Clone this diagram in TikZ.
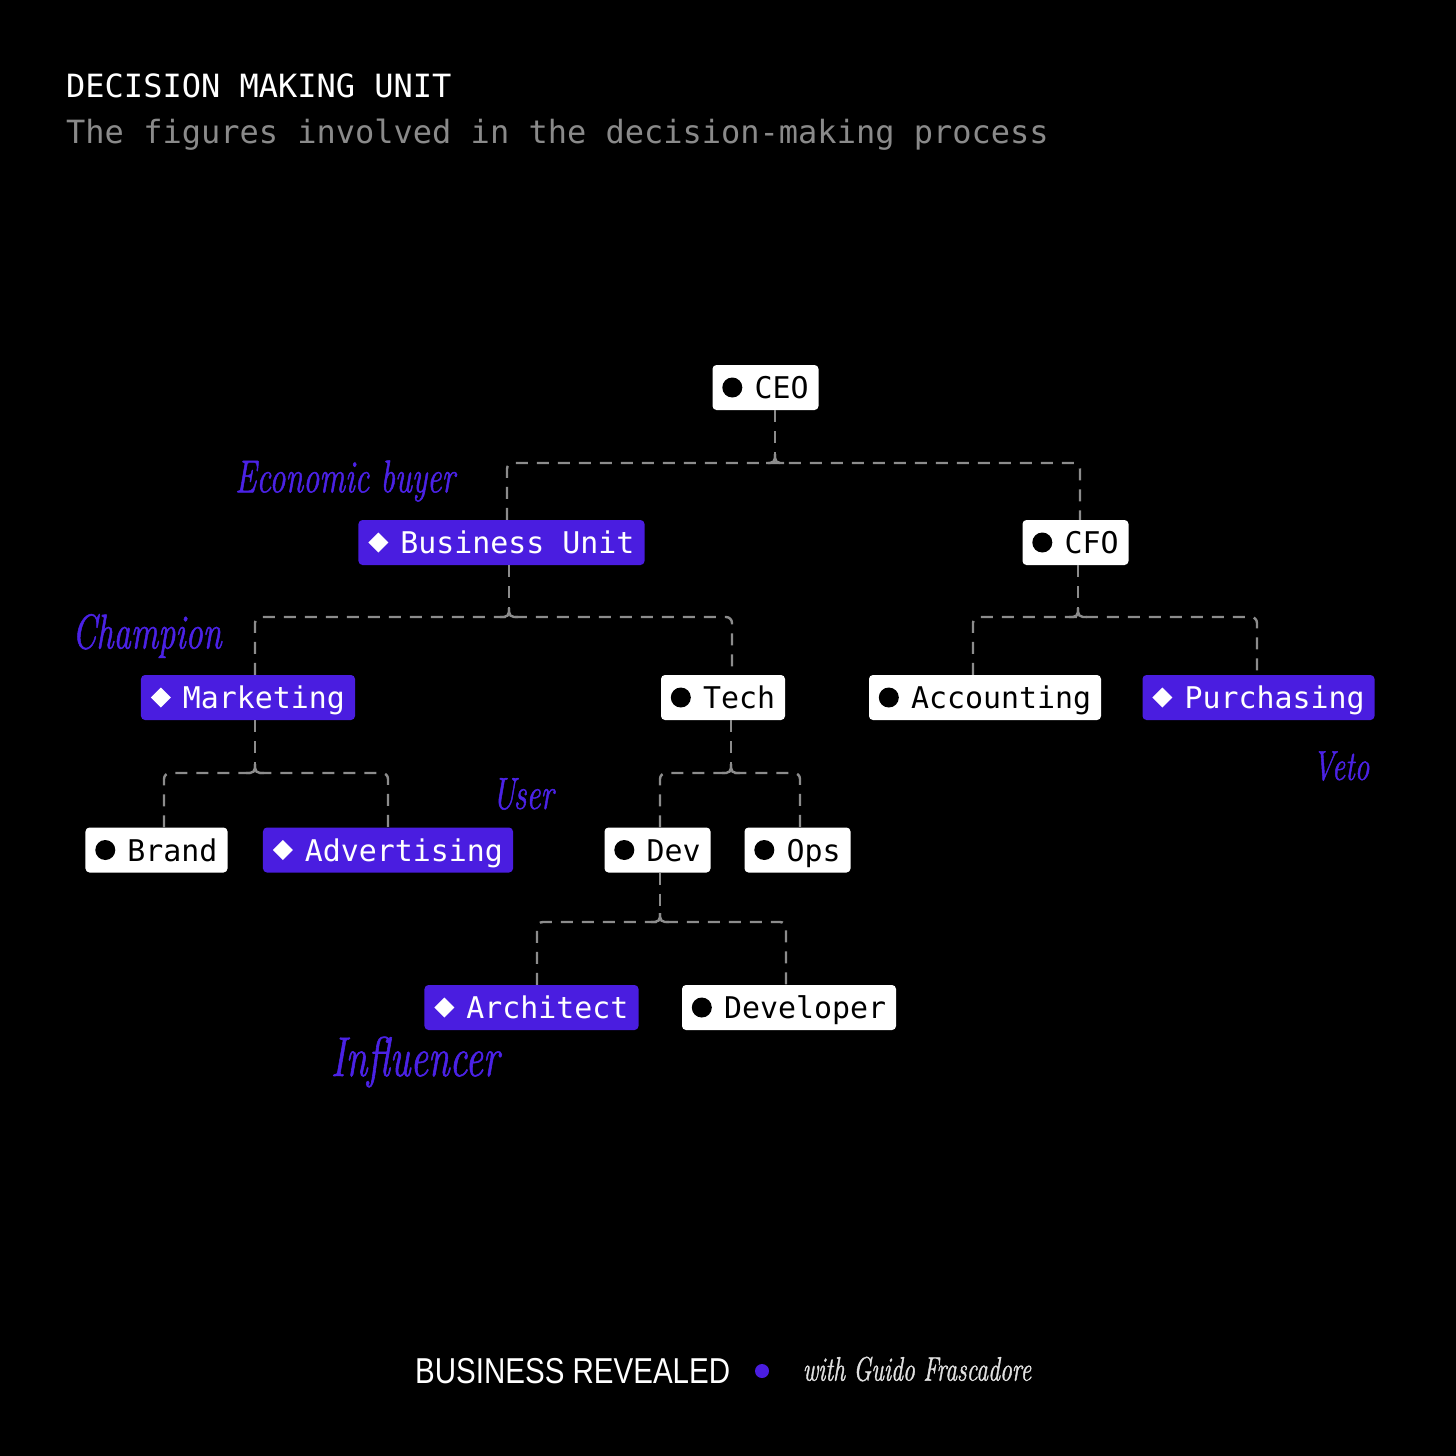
\documentclass[tikz,border=0pt]{standalone}
\usepackage{fontspec}
\newfontfamily\monofont{DejaVu Sans Mono}
\newfontfamily\footfont[FakeStretch=0.82]{Liberation Sans}
\newfontfamily\handfont[FakeStretch=0.7, FakeBold=1]{Latin Modern Roman}
\definecolor{dmupurple}{HTML}{4A1DE0}
\definecolor{handpurple}{HTML}{4B22E6}
\definecolor{linegray}{HTML}{8C8C8C}
\definecolor{subgray}{HTML}{8A8A8A}
\tikzset{
  box/.style={rectangle, rounded corners=4pt, minimum height=45pt, inner xsep=10pt, inner ysep=0pt,
    text height=22pt, text depth=0pt, font=\monofont\fontsize{29.9pt}{34pt}\selectfont},
  whitebox/.style={box, fill=white, text=black},
  purplebox/.style={box, fill=dmupurple, text=white},
  conn/.style={draw=linegray, line width=2.4pt, dash pattern=on 12pt off 9pt, rounded corners=6pt},
  junc/.style={draw=linegray, line width=2.4pt, rounded corners=5pt},
  hand/.style={text=handpurple, inner sep=0pt},
}
\newcommand\lbl[1]{\hspace*{32pt}#1}
\begin{document}
\begin{tikzpicture}[x=1pt,y=-1pt]
\fill[black] (0,0) rectangle (1456,1456);
\useasboundingbox (0,0) rectangle (1456,1456);

% titles
\node[anchor=base west, inner sep=0pt, text=white, font=\monofont\fontsize{32pt}{38pt}\selectfont] (title) at (66,97) {DECISION MAKING UNIT};
\node[anchor=base west, inner sep=0pt, text=subgray, font=\monofont\fontsize{32pt}{38pt}\selectfont] (subtitle) at (66,143) {The figures involved in the decision-making process};

% nodes
\node[whitebox] (ceo) at (765.5,387.5) {\lbl{CEO}};
\node[purplebox] (bu) at (501.5,542.5) {\lbl{Business Unit}};
\node[whitebox] (cfo) at (1075.5,542.5) {\lbl{CFO}};
\node[purplebox] (mkt) at (248,697.5) {\lbl{Marketing}};
\node[whitebox] (tech) at (723,697.5) {\lbl{Tech}};
\node[whitebox] (acc) at (985,697.5) {\lbl{Accounting}};
\node[purplebox] (pur) at (1258.5,697.5) {\lbl{Purchasing}};
\node[whitebox] (brand) at (156.5,850) {\lbl{Brand}};
\node[purplebox] (adv) at (388,850) {\lbl{Advertising}};
\node[whitebox] (dev) at (657.5,850) {\lbl{Dev}};
\node[whitebox] (ops) at (797.5,850) {\lbl{Ops}};
\node[purplebox] (arch) at (531.5,1007.5) {\lbl{Architect}};
\node[whitebox] (devr) at (789,1007.5) {\lbl{Developer}};

% markers
\foreach \n in {ceo,cfo,tech,acc,brand,dev,ops,devr}
  \fill[black] ([xshift=20pt]\n.west) circle[radius=10pt];
\foreach \n in {bu,mkt,pur,adv,arch}
  \fill[white] ([xshift=10pt]\n.west) -- ++(10pt,10pt) -- ++(10pt,-10pt) -- ++(-10pt,-10pt) -- cycle;

% junction coordinates
\coordinate (j1) at (775,463);  \coordinate (j1l) at (507,463);  \coordinate (j1r) at (1080,463);
\coordinate (j2) at (509,617);  \coordinate (j2l) at (255,617);  \coordinate (j2r) at (732,617);
\coordinate (j3) at (1078,617); \coordinate (j3l) at (973,617);  \coordinate (j3r) at (1257,617);
\coordinate (j4) at (255,773);  \coordinate (j4l) at (164,773);  \coordinate (j4r) at (388,773);
\coordinate (j5) at (731,773);  \coordinate (j5l) at (660,773);  \coordinate (j5r) at (800,773);
\coordinate (j6) at (660,922);  \coordinate (j6l) at (537,922);  \coordinate (j6r) at (786,922);

% connectors
\foreach \p/\j/\a/\b in {ceo/j1/bu/cfo, bu/j2/mkt/tech, cfo/j3/acc/pur, mkt/j4/brand/adv, tech/j5/dev/ops, dev/j6/arch/devr}{
  \draw[conn] (\p.south -| \j) -- ([yshift=8pt]\j);
  \draw[conn] (\a.north -| \j l) -- (\j l) -- (\j r) -- (\b.north -| \j r);
  \draw[junc] ([xshift=-9pt]\j) -- (\j) -- ([yshift=9pt]\j);
  \draw[junc] ([xshift=9pt]\j) -- (\j) -- ([yshift=9pt]\j);
}

% handwritten labels
\node[hand, font=\handfont\itshape\fontsize{46pt}{50pt}\selectfont] (econ) at (345,481) {Economic buyer};
\node[hand, font=\handfont\itshape\fontsize{49pt}{52pt}\selectfont] (champ) at (147,636) {Champion};
\node[hand, font=\handfont\itshape\fontsize{45pt}{48pt}\selectfont] (user) at (523,794) {User};
\node[hand, font=\handfont\itshape\fontsize{42pt}{46pt}\selectfont] (veto) at (1341,766) {Veto};
\node[hand, font=\handfont\itshape\fontsize{56pt}{60pt}\selectfont] (infl) at (415,1062) {Influencer};

% footer
\node[anchor=base west, inner sep=0pt, text=white, font=\footfont\fontsize{36pt}{40pt}\selectfont] (brandname) at (415,1383) {BUSINESS REVEALED};
\fill[dmupurple] (762,1371) circle[radius=7pt];
\node[inner sep=0pt, text=white!88!black, font=\handfont\itshape\fontsize{34pt}{38pt}\selectfont] (author) at (917,1369) {with Guido Frascadore};
\end{tikzpicture}
\end{document}
